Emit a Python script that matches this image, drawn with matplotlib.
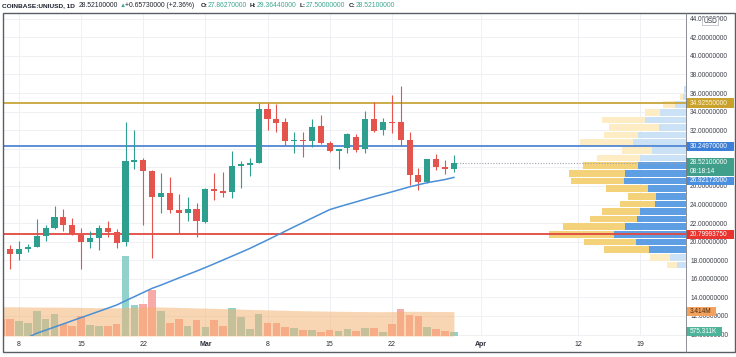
import numpy as np
import pandas as pd
import matplotlib
matplotlib.use("Agg")
import matplotlib.pyplot as plt
from matplotlib.patches import Rectangle
from matplotlib.lines import Line2D
from matplotlib.transforms import blended_transform_factory as btf

plt.rcParams['font.family'] = ['Liberation Sans', 'DejaVu Sans']

# ---------------- data ----------------
start_date = "2021-02-06"
opens = [21.07, 19.18, 18.67, 19.21, 19.46, 20.64, 21.44, 22.66, 21.76, 20.72, 20.00, 20.43, 21.44, 21.07,
         19.96, 28.60, 28.79, 27.64, 24.78, 25.21, 23.41, 23.05, 23.52,
         22.15, 25.70, 25.49, 25.30, 28.20, 28.26, 28.50, 34.25, 33.20, 32.85, 30.85, 30.95, 30.84, 32.45,
         30.59, 29.80, 30.06, 31.30, 29.95, 33.20, 32.03, 32.92, 32.85, 30.95, 27.18, 26.46, 28.87, 28.07, 27.86]
highs = [21.50, 19.64, 20.10, 19.75, 22.40, 21.80, 23.87, 23.50, 22.50, 21.44, 21.15, 21.80, 22.20, 21.37,
         32.92, 32.00, 29.04, 27.72, 27.36, 26.93, 25.13, 24.84, 24.13,
         25.75, 27.43, 27.53, 29.76, 28.72, 28.97, 34.90, 34.90, 34.80, 33.35, 31.84, 31.84, 33.20, 33.60,
         30.87, 30.00, 31.73, 31.56, 34.10, 35.07, 33.28, 35.78, 36.76, 31.84, 27.90, 28.95, 29.40, 28.80, 29.36]
lows = [18.90, 17.03, 18.00, 18.92, 19.40, 20.10, 21.33, 21.20, 20.70, 17.06, 19.35, 19.10, 20.50, 19.28,
        19.50, 27.79, 21.80, 18.20, 23.05, 23.05, 20.97, 22.23, 20.54,
        21.98, 24.49, 24.78, 24.67, 25.75, 27.07, 28.44, 32.00, 31.84, 30.30, 29.50, 29.15, 30.16, 30.50,
        29.65, 27.80, 29.50, 29.70, 29.50, 31.84, 31.48, 31.67, 30.30, 26.10, 25.56, 26.35, 27.72, 27.30, 27.50]
closes = [19.30, 18.64, 19.24, 19.46, 20.61, 21.44, 22.62, 21.80, 20.79, 20.00, 20.36, 21.44, 21.00, 19.89,
          28.68, 28.79, 27.64, 24.78, 25.21, 23.41, 23.05, 23.52, 22.23,
          25.67, 25.49, 25.27, 28.15, 28.30, 28.47, 34.25, 33.17, 32.80, 30.84, 30.90, 30.84, 32.38, 30.66,
          29.80, 29.98, 31.56, 29.87, 33.20, 31.95, 32.85, 32.77, 30.95, 27.18, 26.46, 28.87, 28.07, 27.82, 28.521]
volumes_m = [2.34, 2.34, 2.10, 1.82, 3.45, 2.34, 3.03, 1.72, 1.36, 2.80, 1.50, 1.44, 1.36, 1.68,
             11.15, 4.29, 4.43, 6.48, 3.50, 1.82, 2.38, 1.36, 2.20,
             1.26, 2.20, 1.36, 3.87, 2.63, 0.91, 3.08, 1.86, 1.86, 1.30, 1.08, 0.80, 0.84, 0.60,
             0.80, 0.70, 0.94, 0.74, 1.16, 1.16, 0.56, 1.68, 3.82, 2.94, 2.80, 1.22, 1.02, 0.70, 0.575]
volume_band_m = [4.10, 4.10, 4.08, 4.06, 4.05, 4.05,
                 4.04, 4.03, 4.02, 4.00, 3.98, 3.96, 3.95, 3.94,
                 4.00, 4.03, 4.05, 4.08, 4.06, 4.03, 4.00, 3.97, 3.93,
                 3.90, 3.87, 3.84, 3.80, 3.76, 3.72, 3.69, 3.66,
                 3.63, 3.60, 3.57, 3.54, 3.52, 3.50, 3.48, 3.46, 3.44, 3.43,
                 3.42, 3.41, 3.40, 3.42, 3.45, 3.46, 3.45, 3.44, 3.43, 3.42, 3.414]
ma_start_day = 3
ma_values = [9.70, 10.14, 10.47, 10.81, 11.15, 11.49, 11.83, 12.16, 12.50, 12.84,
             13.18, 13.64, 14.08, 14.53, 14.98, 15.33, 15.71, 16.09, 16.46, 16.83,
             17.22, 17.62, 18.03, 18.44, 18.85, 19.27, 19.73, 20.19, 20.66, 21.13,
             21.60, 22.06, 22.53, 22.99, 23.45, 23.74, 24.02, 24.29, 24.57, 24.85,
             25.10, 25.36, 25.63, 25.90, 26.13, 26.35, 26.52, 26.69, 26.92]

level_gold = 34.9255
level_blue = 30.2497
level_red = 20.7999375
last_price = 28.521
ma_last = 26.92172
vol_band_last = 3.414
vol_last = 0.575311

price_ticks = list(range(10, 46, 2))
hidden_tick_labels = [28, 30]   # fully covered by price tags in the reference
tick_dates = ["2021-02-08", "2021-02-15", "2021-02-22", "2021-03-01", "2021-03-08",
              "2021-03-15", "2021-03-22", "2021-04-01", "2021-04-12", "2021-04-19"]
tick_labels = ["8", "15", "22", "Mar", "8", "15", "22", "Apr", "12", "19"]

# visible-range volume profile, rows listed from top (high) to bottom (low)
prof_high = 36.76
prof_low = 17.03
prof_up = [2, 3, 11, 25.7, 40.7, 27.3, 48, 53, 34, 46.5, 48, 61, 61.7, 38.3, 30, 30.7,
           45.7, 49, 60.7, 72.3, 49.7, 37.3, 15.7, 9]
prof_down = [0, 3, 12, 15, 43, 50, 34, 53, 30, 42.5, 55, 56, 53, 41.7, 28.3, 35.7,
             38.3, 46.7, 62.3, 65, 52, 45, 20, 10]
prof_in_va = [False] * 10 + [True] * 12 + [False] * 2

# ---------------- layout ----------------
W, H = 736, 357
fig = plt.figure(figsize=(W / 100, H / 100), dpi=100)
fig.patch.set_facecolor('white')

def fx(px):
    return px / W

def fy(py):
    return 1 - py / H

AX_L, AX_R, AX_T, AX_B = 2.5, 686, 13, 336
AXW = AX_R - AX_L
rect = [fx(AX_L), fy(AX_B), fx(AX_R) - fx(AX_L), fy(AX_T) - fy(AX_B)]
axv = fig.add_axes(rect)
ax = fig.add_axes(rect)
ax.patch.set_visible(False)

XLIM = (0.141, 77.15)
for a in (axv, ax):
    a.set_xlim(*XLIM)
    for s in a.spines.values():
        s.set_visible(False)
axv.set_ylim(0, 45.2)
ax.set_ylim(9.847, 44.616)
axv.set_xticks([])
axv.set_yticks([])

start = pd.Timestamp(start_date)
n = len(opens)
days = np.arange(n)
tick_pos = [(pd.Timestamp(d) - start).days for d in tick_dates]

up_col = '#2e9e8e'
dn_col = '#e5544c'
is_up = [c >= o for o, c in zip(opens, closes)]

# grid (behind everything)
tr_grid = btf(axv.transAxes, ax.transData)
for p in price_ticks:
    axv.plot([0, 1], [p, p], transform=tr_grid, color='#eef0f4', lw=0.7, zorder=0)
for tp in tick_pos:
    axv.axvline(tp, color='#eef0f4', lw=0.7, zorder=0)

# volume bars + band
vcols = ['#92d2cc' if u else '#f7aaa7' for u in is_up]
axv.bar(days, volumes_m, width=0.86, color=vcols, zorder=1, linewidth=0)
axv.fill_between(days, 0, volume_band_m, color=(245 / 255, 175 / 255, 105 / 255), alpha=0.5,
                 lw=0, zorder=2)

# volume profile
tr_p = btf(ax.transAxes, ax.transData)
step = (prof_high - prof_low) / len(prof_up)
for i, (u, d, va) in enumerate(zip(prof_up, prof_down, prof_in_va)):
    top = prof_high - i * step
    bh = step * 0.87
    y0 = top - bh
    bcol = '#5e9fe4' if va else '#cbe1f6'
    ycol = '#f4d27a' if va else '#fdecc4'
    ax.add_patch(Rectangle((1 - u / AXW, y0), u / AXW, bh, transform=tr_p,
                           facecolor=bcol, edgecolor='none', zorder=3))
    ax.add_patch(Rectangle((1 - (u + d) / AXW, y0), d / AXW, bh, transform=tr_p,
                           facecolor=ycol, edgecolor='none', zorder=3))

# horizontal levels
ax.axhline(level_gold, color='#c9a53a', lw=1.3, zorder=4)
ax.axhline(level_blue, color='#5086d2', lw=1.3, zorder=4)
ax.axhline(level_red, color='#e2483e', lw=1.3, zorder=4)
ax.hlines(last_price, days[-1], XLIM[1], colors='#a0a4ad', lw=0.8,
          linestyles=(0, (1, 1.5)), zorder=4)

# candles
ccols = [up_col if u else dn_col for u in is_up]
ax.vlines(days, lows, highs, colors=ccols, lw=0.8, zorder=5)
bottoms = [min(o, c) for o, c in zip(opens, closes)]
heights = [max(abs(c - o), 0.12) for o, c in zip(opens, closes)]
ax.bar(days, heights, bottom=bottoms, width=0.68, color=ccols, linewidth=0, zorder=6)

# moving average
ma_days = np.arange(ma_start_day, ma_start_day + len(ma_values))
ax.plot(ma_days, ma_values, color='#4a8fd6', lw=1.1, zorder=7)

# axes ticks
ax.yaxis.tick_right()
ax.set_yticks(price_ticks)
ax.set_yticklabels(["" if p in hidden_tick_labels else f"{p:.8f}" for p in price_ticks],
                   fontsize=4.7, color='#3c404a')
ax.tick_params(axis='y', length=0, pad=2.9)
ax.set_xticks(tick_pos)
xl = ax.set_xticklabels(tick_labels, fontsize=5.0, color='#2a2e39')
for t, lab in zip(xl, tick_labels):
    if lab in ("Mar", "Apr"):
        t.set_fontweight('bold')
ax.tick_params(axis='x', length=0, pad=3.6)

# price-scale tags
def tag(tr, y_top, y_bot, texts, bg, fg, x_right=734, zo=20):
    ax.add_patch(Rectangle(((686 - AX_L) / AXW, y_bot), (x_right - 686) / AXW, y_top - y_bot,
                           transform=tr, facecolor=bg, edgecolor='none', clip_on=False, zorder=zo))
    for ty, s in texts:
        ax.text((690 - AX_L) / AXW, ty, s, transform=tr, fontsize=4.7, color=fg,
                va='center', ha='left', clip_on=False, zorder=zo + 1)

pu = 1 / 9.29  # price units per pixel
tag(tr_p, level_gold + 4.6 * pu, level_gold - 4.6 * pu, [(level_gold, f"{level_gold:.8f}")],
    '#c9a22c', '#fff6dc')
tag(tr_p, level_blue + 4.6 * pu, level_blue - 4.6 * pu, [(level_blue, f"{level_blue:.8f}")],
    '#3c7fd8', 'white')
tag(tr_p, last_price + 4.6 * pu, last_price - 13.8 * pu,
    [(last_price, f"{last_price:.8f}"), (last_price - 8.6 * pu, "08:18:14")],
    '#3f9f8b', 'white')
ma_c = last_price - 18.0 * pu
tag(tr_p, ma_c + 4.0 * pu, ma_c - 4.0 * pu, [(ma_c, f"{ma_last:.8f}")], '#4a90e0', 'white')
tag(tr_p, level_red + 4.4 * pu, level_red - 4.4 * pu, [(level_red, f"{level_red:.8f}")],
    '#e8332f', 'white')
tr_vt = btf(ax.transAxes, axv.transData)
vu = 1 / 7.15
tag(tr_vt, vol_band_last + 4.2 * vu, vol_band_last - 4.2 * vu,
    [(vol_band_last, f"{vol_band_last:.3f}M")], '#f2a25e', '#4a2a0c', x_right=716)
vc = vol_last + 0.4 * vu
tag(tr_vt, vc + 4.2 * vu, vc - 4.2 * vu, [(vc, f"{vol_last * 1000:.3f}K")], '#4db39a', 'white',
    x_right=722)

# USD box
fig.add_artist(Rectangle((fx(701.7), fy(25.3)), fx(718.3) - fx(701.7), 8.3 / H,
                         transform=fig.transFigure, facecolor='white', edgecolor='#b2b5be',
                         lw=0.5, zorder=30))
fig.text(fx(710), fy(21.2), "USD", fontsize=4.7, color='#2a2e39', ha='center', va='center',
         zorder=31)

# frame
fig.add_artist(Rectangle((fx(2.5), fy(352)), fx(735.3) - fx(2.5), (352 - 13) / H,
                         transform=fig.transFigure, fill=False, ec='#5a5d66', lw=1.0, zorder=25))
fig.add_artist(Line2D([fx(686), fx(686)], [fy(13), fy(352)], transform=fig.transFigure,
                      color='#7a7d86', lw=0.6, zorder=25))

# header
green = '#3da690'
dark = '#1e222d'
pieces = [("COINBASE:UNIUSD, 1D", 1.7, dark, 'bold', 4.65),
          ("28.52100000", 78.5, dark, 'normal', 4.9),
          ("\u25B2", 119.5, green, 'normal', 4.5),
          ("+0.65730000 (+2.36%)", 125, dark, 'normal', 4.9),
          ("O:", 200.7, dark, 'bold', 4.6), ("27.86270000", 207.5, green, 'normal', 4.9),
          ("H:", 250, dark, 'bold', 4.6), ("29.36440000", 257, green, 'normal', 4.9),
          ("L:", 300, dark, 'bold', 4.6), ("27.50000000", 305.5, green, 'normal', 4.9),
          ("C:", 348.5, dark, 'bold', 4.6), ("28.52100000", 356, green, 'normal', 4.9)]
for s, px, col, wt, fs in pieces:
    fig.text(fx(px), fy(5.2), s, fontsize=fs, color=col, fontweight=wt, ha='left', va='center')

fig.savefig("out.png", dpi=100)
